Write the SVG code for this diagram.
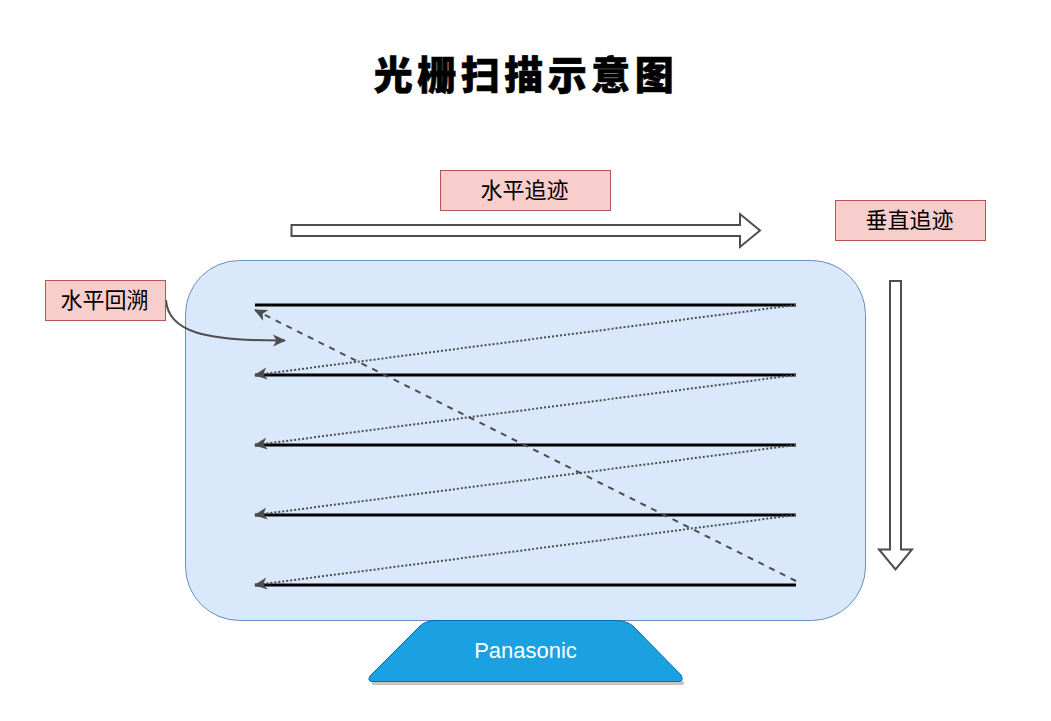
<svg xmlns="http://www.w3.org/2000/svg" width="1051" height="721" viewBox="0 0 1051 721">
<style>
.lab{fill:#f8cecc;stroke:#b85450;stroke-width:1}
.t{font-family:"Liberation Sans","Noto Sans CJK SC",sans-serif;font-size:22px;fill:#000;text-anchor:middle}
.scan{stroke:#000;stroke-width:3;fill:none}
.ret{stroke:#4d4d4d;stroke-width:2;stroke-dasharray:2 2;fill:none;marker-end:url(#b)}
.big{fill:#fff;stroke:#4d4d4d;stroke-width:2}
</style>
<defs>
<marker id="b" markerUnits="userSpaceOnUse" markerWidth="16" markerHeight="14" refX="13" refY="7" orient="auto"><path d="M1 1 L14 7 L1 13 L4.500 7 Z" fill="#4d4d4d"/></marker>
</defs>
<rect width="1051" height="721" fill="#fff"/>
<text id="title" x="526" y="89" font-family="'Noto Sans CJK SC',sans-serif" font-weight="900" font-size="39" letter-spacing="4.500" text-anchor="middle" stroke="#000" stroke-width="0.6">光栅扫描示意图</text>
<g id="screen"><rect x="185.500" y="260.500" width="680" height="360" rx="54" ry="54" fill="#dae8fc" stroke="#6c8ebf"/></g>
<g id="stand">
<path d="M372 681 L683 681 Q685 683 683 685 L373 685 Q371 684 372 681 Z" fill="#c4c4c4"/>
<path d="M436 620.500 L616 620.500 Q626 620.500 633 626 L681 675 Q684 681 679 681.500 L372 681.500 Q367 681 370 676 L420 626 Q426 620.500 436 620.500 Z" fill="#1ba1e2" stroke="#006eaf"/>
<text x="525.500" y="658" font-family="'Liberation Sans',Arial,sans-serif" font-size="22" fill="#fff" text-anchor="middle">Panasonic</text>
</g>
<g id="connectors">
<path class="scan" d="M255 305H796M255 375H796M255 445H796M255 515H796M255 585H796"/>
<path class="ret" d="M796 305L255 375"/>
<path class="ret" d="M796 375L255 445"/>
<path class="ret" d="M796 445L255 515"/>
<path class="ret" d="M796 515L255 585"/>
<path d="M796 581L255 310" fill="none" stroke="#4d4d4d" stroke-width="2" stroke-dasharray="6 6" marker-end="url(#b)"/>
<path d="M166 300C168 332 205 341 285 340.500" fill="none" stroke="#4d4d4d" stroke-width="2" marker-end="url(#b)"/>
</g>
<g id="arrow-h"><path class="big" d="M291.500 225H740V214L760 230.500L740 247V236H291.500Z"/></g>
<g id="arrow-v"><path class="big" d="M890 281H901V549.500H912L895.500 569.500L879 549.500H890Z"/></g>
<g id="label-h"><rect class="lab" x="440.500" y="170.500" width="170" height="40"/><text class="t" x="524.500" y="198">水平追迹</text></g>
<g id="label-v"><rect class="lab" x="835.500" y="200.500" width="150" height="40"/><text class="t" x="909.500" y="228">垂直追迹</text></g>
<g id="label-r"><rect class="lab" x="45.500" y="280.500" width="120" height="40"/><text class="t" x="104.500" y="308">水平回溯</text></g>
</svg>
